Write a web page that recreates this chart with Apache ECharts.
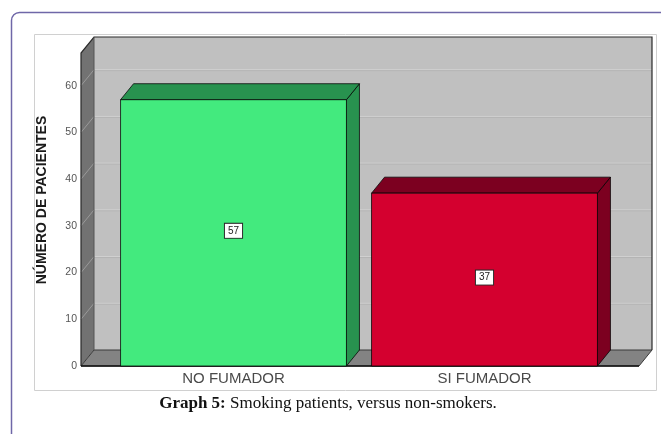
<!DOCTYPE html>
<html>
<head>
<meta charset="utf-8">
<script src="https://cdn.jsdelivr.net/npm/echarts@6/dist/echarts.min.js"></script>
<style>
  html, body { margin: 0; padding: 0; background: #ffffff; }
  #chart { width: 661px; height: 434px; }
</style>
</head>
<body>
<div id="chart"></div>
<script>
// Smoking status of the patients
const categories = ['NO FUMADOR', 'SI FUMADOR'];
const patients = [57, 37];
const yTicks = [0, 10, 20, 30, 40, 50, 60];
const yMax = 67;
const yAxisTitle = 'NÚMERO DE PACIENTES';
const captionBold = 'Graph 5:';
const captionText = ' Smoking patients, versus non-smokers.';

// Colours of the front faces and the shaded top/side faces
const faceColors = ['#43ea7e', '#d4002f'];
const shadeColors = ['#28924f', '#7c0020'];

// Fake-3D depth offset and how far the floor reaches past the category band
const DX = 13, DY = -16;
const PAD_L = 27, PAD_R = 29;

const chart = echarts.init(document.getElementById('chart'), null, { renderer: 'canvas' });

function renderWalls(params, api) {
  const cs = params.coordSys;
  const x0 = cs.x - PAD_L, x1 = cs.x + cs.width + PAD_R;
  const yTop = cs.y, yBot = cs.y + cs.height;
  const children = [];
  // back wall
  children.push({ type: 'rect', shape: { x: x0 + DX, y: yTop + DY, width: x1 - x0, height: yBot - yTop },
    style: { fill: '#c0c0c0', stroke: null } });
  // left side wall
  children.push({ type: 'polygon', shape: { points: [[x0, yTop], [x0 + DX, yTop + DY], [x0 + DX, yBot + DY], [x0, yBot]] },
    style: { fill: '#727272', stroke: null } });
  // grid lines on the back and side walls
  yTicks.forEach(function (v) {
    if (v === 0) return;
    const y = api.coord([0, v])[1];
    children.push({ type: 'line', shape: { x1: x0 + DX, y1: y + DY, x2: x1 + DX, y2: y + DY },
      style: { stroke: '#d2d2d2', lineWidth: 1 } });
    children.push({ type: 'line', shape: { x1: x0 + DX, y1: y + DY + 1, x2: x1 + DX, y2: y + DY + 1 },
      style: { stroke: '#b4b4b4', lineWidth: 1 } });
    children.push({ type: 'line', shape: { x1: x0, y1: y, x2: x0 + DX, y2: y + DY },
      style: { stroke: '#9a9a9a', lineWidth: 1 } });
  });
  // floor
  children.push({ type: 'polygon', shape: { points: [[x0, yBot], [x0 + DX, yBot + DY], [x1 + DX, yBot + DY], [x1, yBot]] },
    style: { fill: '#838383', stroke: '#3a3a3a', lineWidth: 1 } });
  // wall outlines
  children.push({ type: 'polyline', shape: { points: [[x0, yBot], [x0, yTop], [x0 + DX, yTop + DY], [x1 + DX, yTop + DY], [x1 + DX, yBot + DY]] },
    style: { fill: null, stroke: '#2a2a2a', lineWidth: 1.2 } });
  children.push({ type: 'line', shape: { x1: x0 + DX, y1: yTop + DY, x2: x0 + DX, y2: yBot + DY },
    style: { stroke: '#555555', lineWidth: 1 } });
  children.push({ type: 'line', shape: { x1: x0, y1: yBot, x2: x1, y2: yBot },
    style: { stroke: '#111111', lineWidth: 1.5 } });
  return { type: 'group', children: children };
}

function renderBar(params, api) {
  const i = api.value(0);
  const v = api.value(1);
  const top = api.coord([i, v]);
  const base = api.coord([i, 0]);
  const w = api.size([1, 0])[0] * 0.9;
  const x = top[0] - w / 2;
  const y = top[1];
  const h = base[1] - top[1];
  const edge = { stroke: 'rgba(0,0,0,0.75)', lineWidth: 1 };
  return {
    type: 'group',
    children: [
      { type: 'polygon', shape: { points: [[x + w, y], [x + w + DX, y + DY], [x + w + DX, base[1] + DY], [x + w, base[1]]] },
        style: Object.assign({ fill: shadeColors[i] }, edge) },
      { type: 'polygon', shape: { points: [[x, y], [x + DX, y + DY], [x + w + DX, y + DY], [x + w, y]] },
        style: Object.assign({ fill: shadeColors[i] }, edge) },
      { type: 'rect', shape: { x: x, y: y, width: w, height: h },
        style: Object.assign({ fill: faceColors[i] }, edge) },
      { type: 'text', x: top[0], y: y + h / 2 - 2,
        style: { text: String(v), fill: '#222222', font: '10px "Liberation Sans", Arial, sans-serif',
          align: 'center', verticalAlign: 'middle', backgroundColor: '#ffffff',
          borderColor: '#2a2a2a', borderWidth: 1, padding: [2, 3, 2, 3] } }
    ]
  };
}

chart.setOption({
  backgroundColor: '#ffffff',
  animation: false,
  grid: { left: 108, right: 51, top: 53, bottom: 68, containLabel: false },
  xAxis: {
    type: 'category',
    data: categories,
    axisLine: { show: false },
    axisTick: { show: false },
    axisLabel: { color: '#4a4a4a', fontSize: 15, fontFamily: '"Liberation Sans", Arial, sans-serif', margin: 5 }
  },
  yAxis: {
    type: 'value',
    min: 0,
    max: yMax,
    interval: 10,
    offset: PAD_L,
    axisLine: { show: false },
    axisTick: { show: false },
    splitLine: { show: false },
    axisLabel: { color: '#555555', fontSize: 10.5, fontFamily: '"Liberation Sans", Arial, sans-serif', margin: 4, showMaxLabel: false }
  },
  graphic: [
    { type: 'rect', left: 9, top: 10, z: -10, silent: true,
      shape: { width: 700, height: 460, r: 8 },
      style: { fill: null, stroke: '#6f67a8', lineWidth: 1.5 } },
    { type: 'rect', left: 32, top: 32, z: -10, silent: true,
      shape: { width: 622, height: 356 },
      style: { fill: null, stroke: '#d0d0d0', lineWidth: 1 } },
    { type: 'text', x: 42, y: 200, rotation: Math.PI / 2, silent: true,
      style: { text: yAxisTitle, fill: '#1a1a1a', font: 'bold 14px "Liberation Sans", Arial, sans-serif',
        align: 'center', verticalAlign: 'middle' } },
    { type: 'text', x: 328, y: 404, silent: true,
      style: { text: '{b|' + captionBold + '}' + captionText, fill: '#111111',
        font: '17px "Liberation Serif", "Times New Roman", serif', align: 'center', verticalAlign: 'middle',
        rich: { b: { fontWeight: 'bold', fontSize: 17, fontFamily: '"Liberation Serif", "Times New Roman", serif', fill: '#111111' } } } }
  ],
  series: [
    { type: 'custom', renderItem: renderWalls, data: [[0, 0]], z: 1, silent: true, clip: false },
    { type: 'custom', renderItem: renderBar, data: patients.map(function (v, i) { return [i, v]; }), z: 2, silent: true, clip: false }
  ]
});
</script>
</body>
</html>
